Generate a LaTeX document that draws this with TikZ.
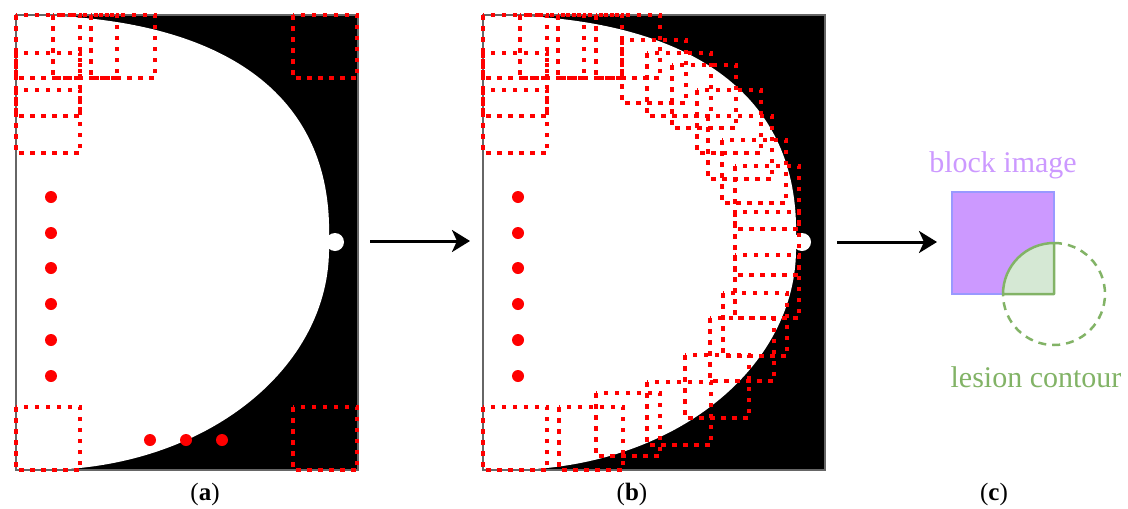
\documentclass[tikz,border=0pt]{standalone}
\usepackage{fontspec}
\setmainfont{Liberation Serif}
\usetikzlibrary{arrows.meta}
\definecolor{lesion}{HTML}{82B366}
\definecolor{lesionfill}{HTML}{D5E8D4}
\definecolor{blockfill}{HTML}{CC99FF}
\definecolor{blockline}{HTML}{9999FF}
\definecolor{framegray}{HTML}{666666}

% binary lesion mask: black background, white lesion with a small bump
\newcommand\lesionmask[1]{%
  \begin{scope}[xshift=#1]
    \fill[black] (16,15) rectangle (358,470);
    \fill[white] (16,15) -- (20,15)
      .. controls (210,15) and (333,85) .. (329,238)
      -- (329,246)
      .. controls (331,368) and (205,470) .. (40,470)
      -- (16,470) -- cycle;
    \fill[white] (335,242) circle[radius=9];
    \draw[framegray, line width=1.2pt] (16,15) rectangle (358,470);
  \end{scope}}

% one sampling block (64 x 63) given by its top-left corner
\newcommand\redsq[2]{\draw[redbox] (#1,#2) rectangle ++(64,63);}

\begin{document}
\begin{tikzpicture}[x=1pt,y=-1pt,
  redbox/.style={draw=red, line width=4.5pt, dash pattern=on 4.5pt off 6.5pt},
  seed/.style={circle, fill=red, inner sep=0pt, minimum size=12pt},
  flow/.style={line width=3pt, -{Stealth[length=18pt,width=22pt,inset=5pt]}},
  caption/.style={font=\fontsize{25}{30}\selectfont, anchor=base},
  label/.style={font=\fontsize{30}{36}\selectfont, anchor=base}]
\useasboundingbox (0,0) rectangle (1128,509);

% ---------- panel (a) ----------
\lesionmask{0pt}
\foreach \x/\y in {16/15, 53/15, 91/15, 16/53, 16/90, 293/15, 293/407, 16/407}
  {\redsq{\x}{\y}}
\foreach \y [count=\i] in {197,233,268,304,340,376}
  {\node[seed] (seedA\i) at (51,\y) {};}
\foreach \x [count=\i] in {150,186,222}
  {\node[seed] (seedAb\i) at (\x,440) {};}

% ---------- panel (b) ----------
\lesionmask{467pt}
\foreach \x/\y in {483/15, 520/15, 558/15, 596/15, 483/53, 483/90,
                   622/40, 647/53, 672/65, 697/90, 708/116, 722/140,
                   735/166, 735/212, 735/255, 723/293, 710/318, 685/355,
                   647/382, 596/393, 559/407, 483/407}
  {\redsq{\x}{\y}}
\foreach \y [count=\i] in {197,233,268,304,340,376}
  {\node[seed] (seedB\i) at (518,\y) {};}

% ---------- arrows ----------
\coordinate (flowAstart) at (370,241);
\coordinate (flowAend) at (470,241);
\coordinate (flowBstart) at (837,242);
\coordinate (flowBend) at (937,242);
\draw[flow] (flowAstart) -- (flowAend);
\draw[flow] (flowBstart) -- (flowBend);

% ---------- panel (c) ----------
% (y axis points down, so angles run clockwise on the page)
\fill[blockfill] (952,192) rectangle (1054,294);
\draw[blockline, line width=2pt] (952,192) rectangle (1054,294);
\filldraw[fill=lesionfill, draw=lesion, line width=2.5pt, line join=round]
  (1054,294) -- (1003,294) arc[start angle=180, end angle=270, radius=51] -- cycle;
\draw[lesion, line width=2.5pt, dash pattern=on 8pt off 6pt]
  (1054,243) arc[start angle=-90, end angle=180, radius=51];
\node[label, text=blockfill] (blocklabel) at (1003,172) {block image};
\node[label, text=lesion] (lesionlabel) at (1036,387) {lesion contour};

% ---------- captions ----------
\node[caption] (capA) at (205,500) {(\textbf{a})};
\node[caption] (capB) at (632,500) {(\textbf{b})};
\node[caption] (capC) at (994,500) {(\textbf{c})};
\end{tikzpicture}
\end{document}
